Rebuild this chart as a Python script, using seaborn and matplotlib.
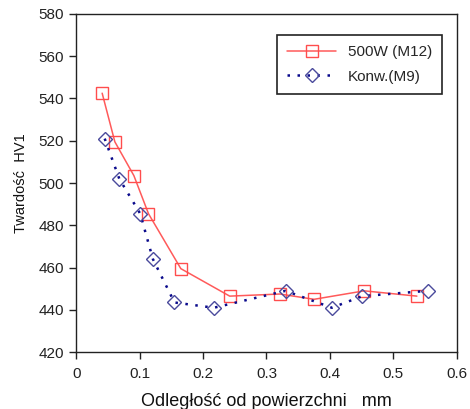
import numpy as np
import pandas as pd
import matplotlib
matplotlib.use('Agg')
import matplotlib.pyplot as plt
import seaborn as sns

# dane
x_500w = [0.041, 0.061, 0.091, 0.114, 0.165, 0.242, 0.321, 0.375, 0.454, 0.537]
hv_500w = [542.5, 519.5, 503.5, 485.5, 459.5, 446.5, 447.5, 445.0, 449.0, 446.5]
x_konw = [0.045, 0.068, 0.101, 0.121, 0.155, 0.217, 0.330, 0.403, 0.451, 0.554]
hv_konw = [521.0, 502.0, 485.5, 464.0, 443.5, 441.0, 449.0, 441.0, 446.5, 449.0]
labels = ['500W (M12)', 'Konw.(M9)']

sns.set_theme(style='ticks')
plt.rcParams['font.family'] = ['Liberation Sans', 'DejaVu Sans']

df1 = pd.DataFrame({'x': x_500w, 'hv': hv_500w})
df2 = pd.DataFrame({'x': x_konw, 'hv': hv_konw})

fig = plt.figure(figsize=(4.7, 4.09), dpi=100)
ax = fig.add_axes([0.162, 0.139, 0.81, 0.827])

sns.lineplot(data=df1, x='x', y='hv', ax=ax, color='#ff5a5a', lw=1.1,
             marker='s', markersize=8, markerfacecolor='none',
             markeredgecolor='#ff4d4d', markeredgewidth=1.0, label=labels[0])
sns.lineplot(data=df2, x='x', y='hv', ax=ax, color='#0a0a8c', lw=1.8,
             linestyle=(0, (1, 3)), marker='D', markersize=7,
             markerfacecolor='none', markeredgecolor='#4a4a9c',
             markeredgewidth=1.0, label=labels[1])

ax.set_xlim(0, 0.6)
ax.set_ylim(420, 580)
ax.set_xticks(np.arange(0, 0.61, 0.1))
ax.set_xticklabels(['0', '0.1', '0.2', '0.3', '0.4', '0.5', '0.6'])
ax.set_yticks(np.arange(420, 581, 20))
ax.tick_params(labelsize=11, length=5, width=1, color='#222222', labelcolor='#222222')
ax.tick_params(axis='x', pad=6)
for s in ax.spines.values():
    s.set_color('#222222')
    s.set_linewidth(1.0)

ax.set_xlabel('Odległość od powierzchni   mm', fontsize=13, color='#111111', labelpad=8)
ax.set_ylabel('Twardość  HV1', fontsize=10.5, color='#111111', labelpad=8)

leg = ax.legend(loc='upper right', bbox_to_anchor=(0.982, 0.96), fontsize=11,
                fancybox=False, framealpha=1, edgecolor='#222222',
                handlelength=3.2, borderpad=0.65, labelspacing=0.7)
leg.get_frame().set_linewidth(1.2)

fig.savefig('out.png', dpi=100)
